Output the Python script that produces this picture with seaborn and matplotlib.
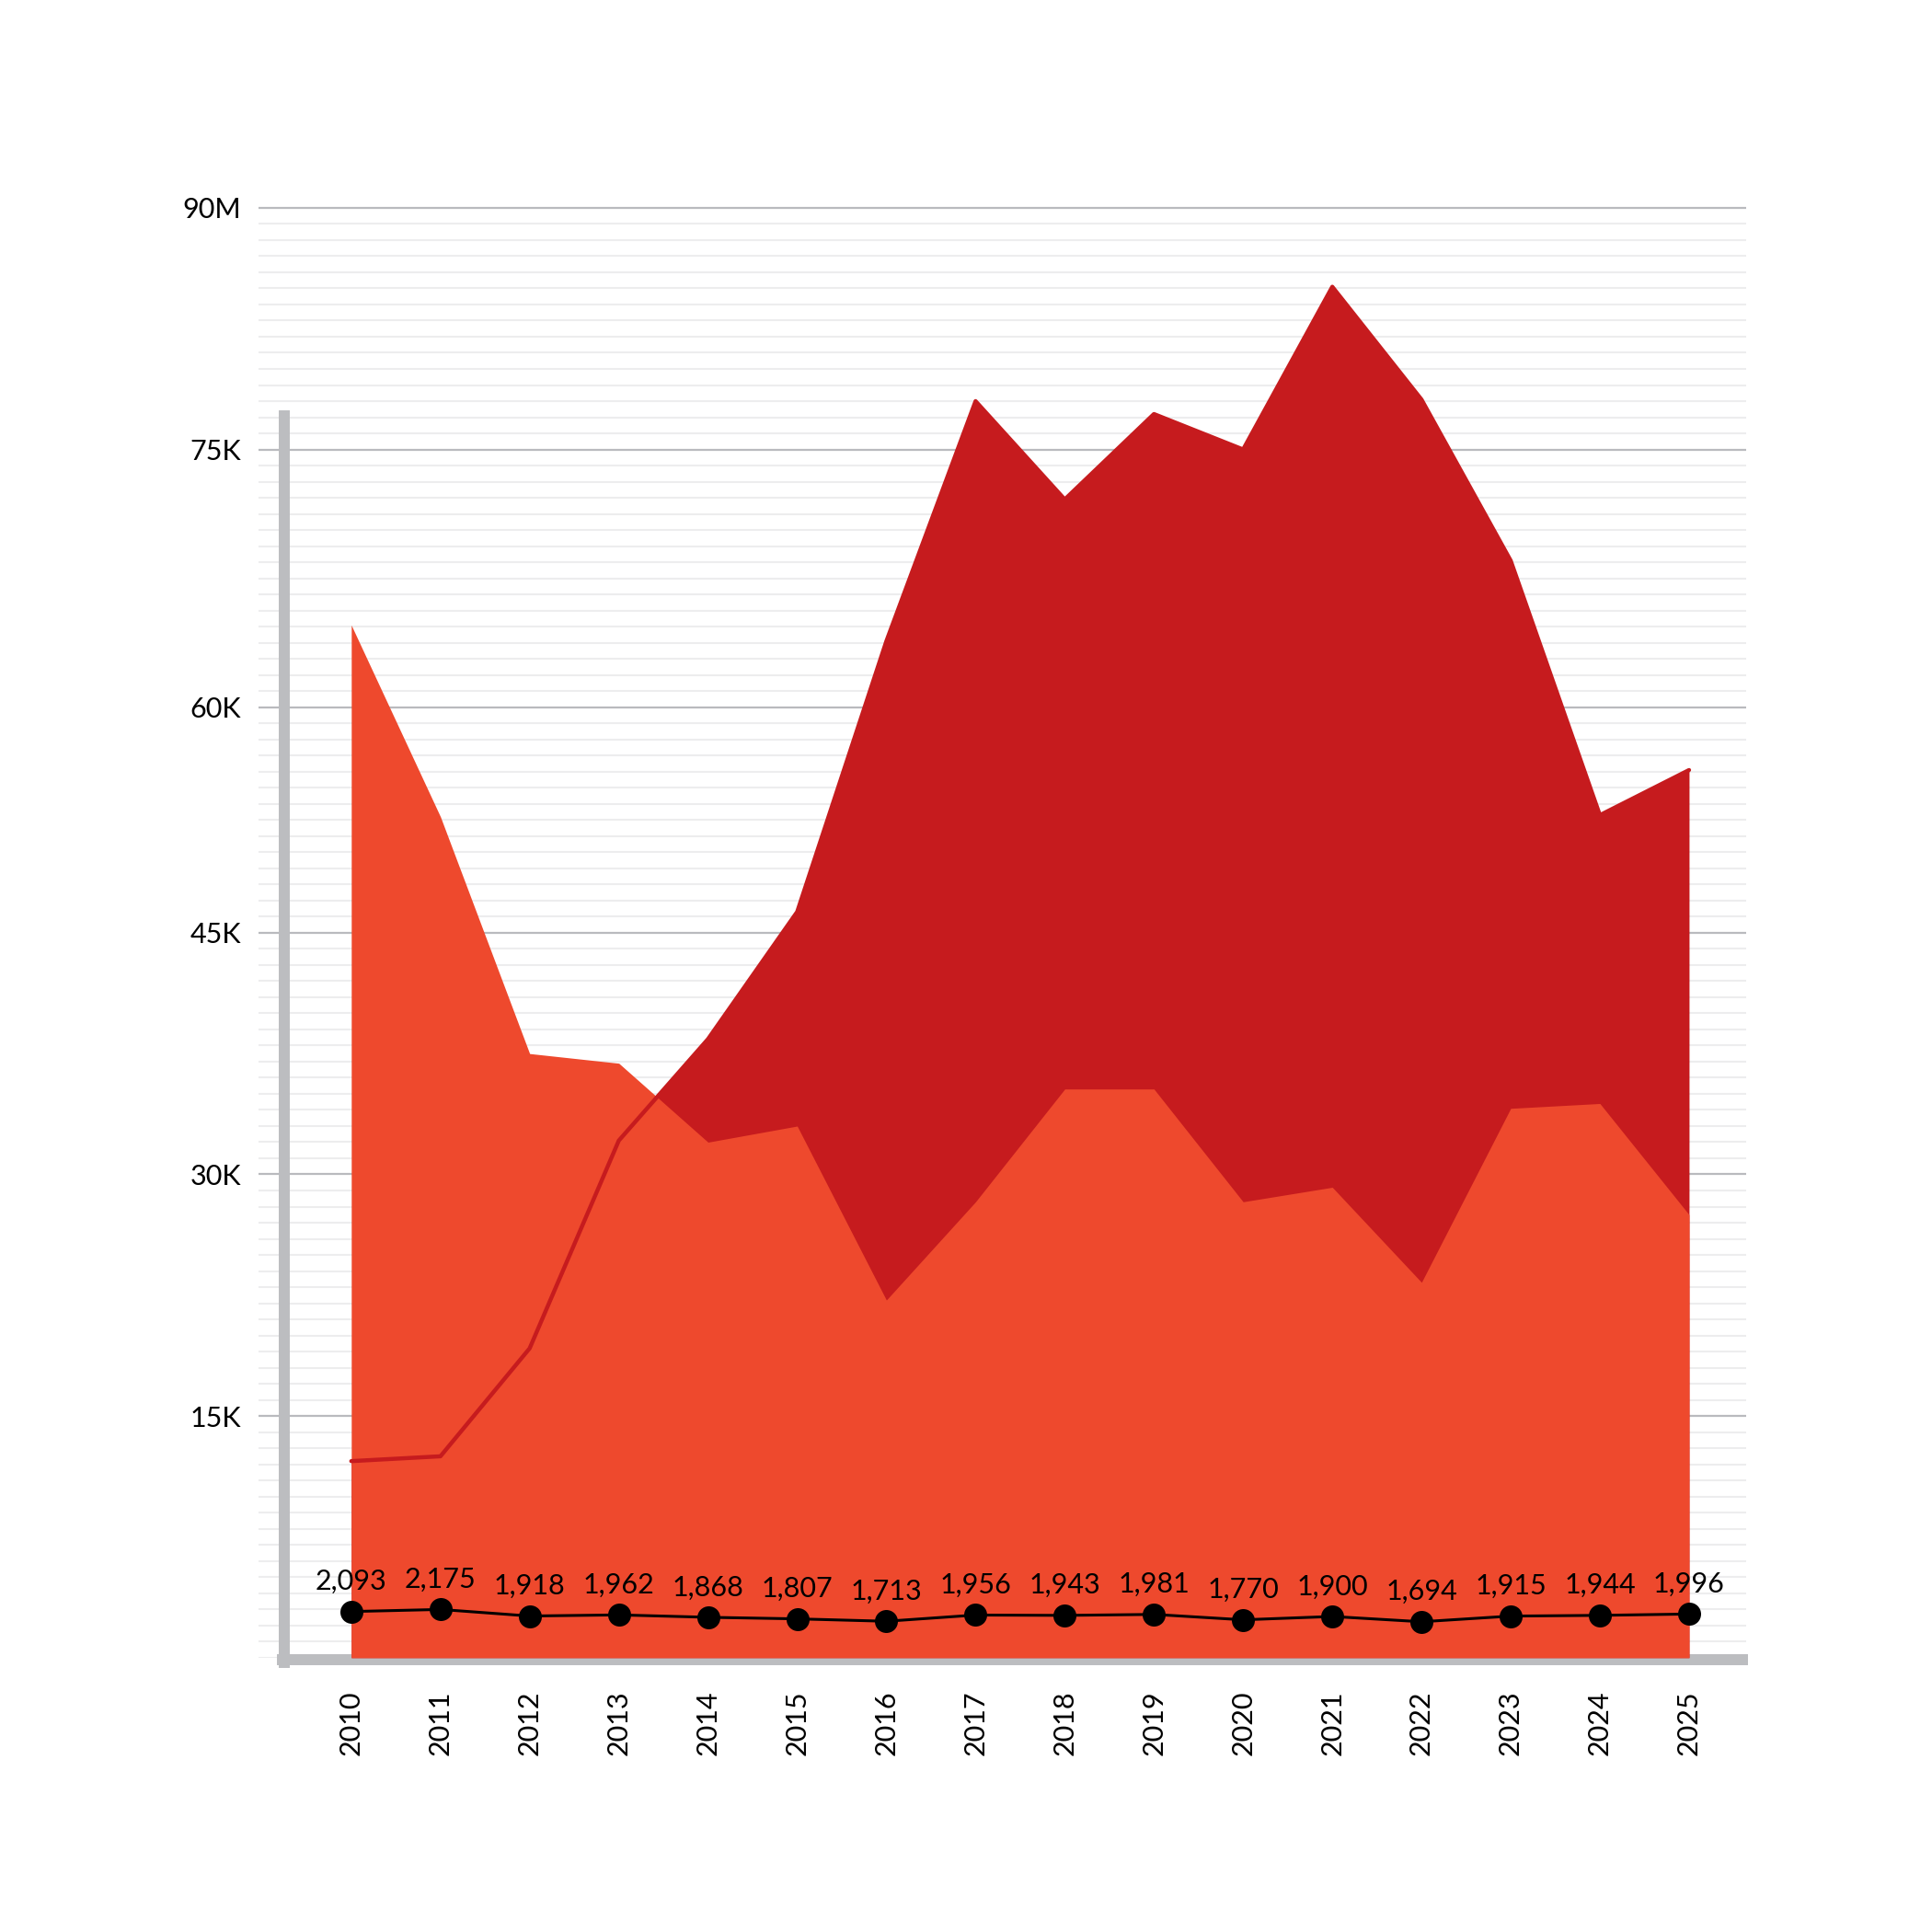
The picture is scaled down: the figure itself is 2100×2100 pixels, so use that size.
import pandas as pd
import matplotlib.pyplot as plt
import matplotlib.ticker as mticker
import seaborn as sns

# values
years = [2010, 2011, 2012, 2013, 2014, 2015, 2016, 2017,
         2018, 2019, 2020, 2021, 2022, 2023, 2024, 2025]
dark_vals = [12200, 12500, 19200, 32100, 38400, 46300, 63100, 78000,
             71900, 77200, 75000, 85100, 78100, 68100, 52300, 55100]
orange_vals = [64100, 52200, 37500, 36900, 32000, 33000, 22200, 28300,
               35300, 35300, 28300, 29200, 23300, 34100, 34400, 27500]
counts = [2093, 2175, 1918, 1962, 1868, 1807, 1713, 1956,
          1943, 1981, 1770, 1900, 1694, 1915, 1944, 1996]
ytick_vals = [15000, 30000, 45000, 59000, 75000, 90000]
ytick_labels = ["15K", "30K", "45K", "60K", "75K", "90M"]

DARK = "#C61B1E"
ORANGE = "#EE492D"
SPINE = "#BCBDC0"
FS = 22

df = pd.DataFrame({"year": years, "dark": dark_vals,
                   "orange": orange_vals, "count": counts})

sns.set_theme(style="white")
plt.rcParams["font.family"] = ["Lato", "DejaVu Sans"]

fig = plt.figure(figsize=(21, 21), dpi=100)
ax = fig.add_axes([0.1338, 0.1420, 0.770, 0.7546])

# areas overlap (not stacked): dark one behind, orange in front
ax.fill_between(df["year"], df["dark"], color=DARK, lw=0, zorder=2.6)
ax.fill_between(df["year"], df["orange"], color=ORANGE, lw=0, zorder=2.7)
sns.lineplot(data=df, x="year", y="dark", color=DARK, lw=3.2, ax=ax, zorder=2.8)

ax.set_xlim(2008.96, 2025.64)
ax.set_ylim(0, 90500)
ax.set_xlabel("")
ax.set_ylabel("")

# spines
ax.spines["top"].set_visible(False)
ax.spines["right"].set_visible(False)
ax.spines["left"].set_position(("axes", 0.0176))
ax.spines["left"].set_bounds(-300, 77100)
ax.spines["bottom"].set_position(("outward", 1.7))
ax.spines["bottom"].set_bounds(2009.23, 2025.6)
for s in ["left", "bottom"]:
    ax.spines[s].set_color(SPINE)
    ax.spines[s].set_linewidth(8.6)

# count line on its own hidden scale
ax2 = ax.twinx()
sns.lineplot(data=df, x="year", y="count", color="black", lw=2.2,
             marker="o", markersize=18, markeredgewidth=0, ax=ax2)
ax2.set_ylim(290, 57290)
ax2.axis("off")
for yr, c in zip(years, counts):
    ax2.annotate(f"{c:,}", (yr, c), xytext=(0, 17), textcoords="offset points",
                 ha="center", va="baseline", fontsize=FS, color="black")

# ticks and grid
ax.set_xticks(years)
ax.set_xticklabels([str(y) for y in years])
ax.set_yticks(ytick_vals)
ax.set_yticklabels(ytick_labels)
ax.yaxis.set_minor_locator(mticker.MultipleLocator(1000))
ax.tick_params(axis="x", length=0, pad=24, labelsize=FS, colors="black",
               labelrotation=90)
ax.tick_params(axis="y", which="both", length=0, pad=34, labelsize=FS,
               colors="black")
ax.set_axisbelow(True)
ax.grid(which="minor", axis="y", color="#EDEDEE", lw=1.5)
ax.grid(which="major", axis="y", color="#B9BABE", lw=1.6)
ax.grid(axis="x", visible=False)

fig.savefig("out.png", dpi=100)
